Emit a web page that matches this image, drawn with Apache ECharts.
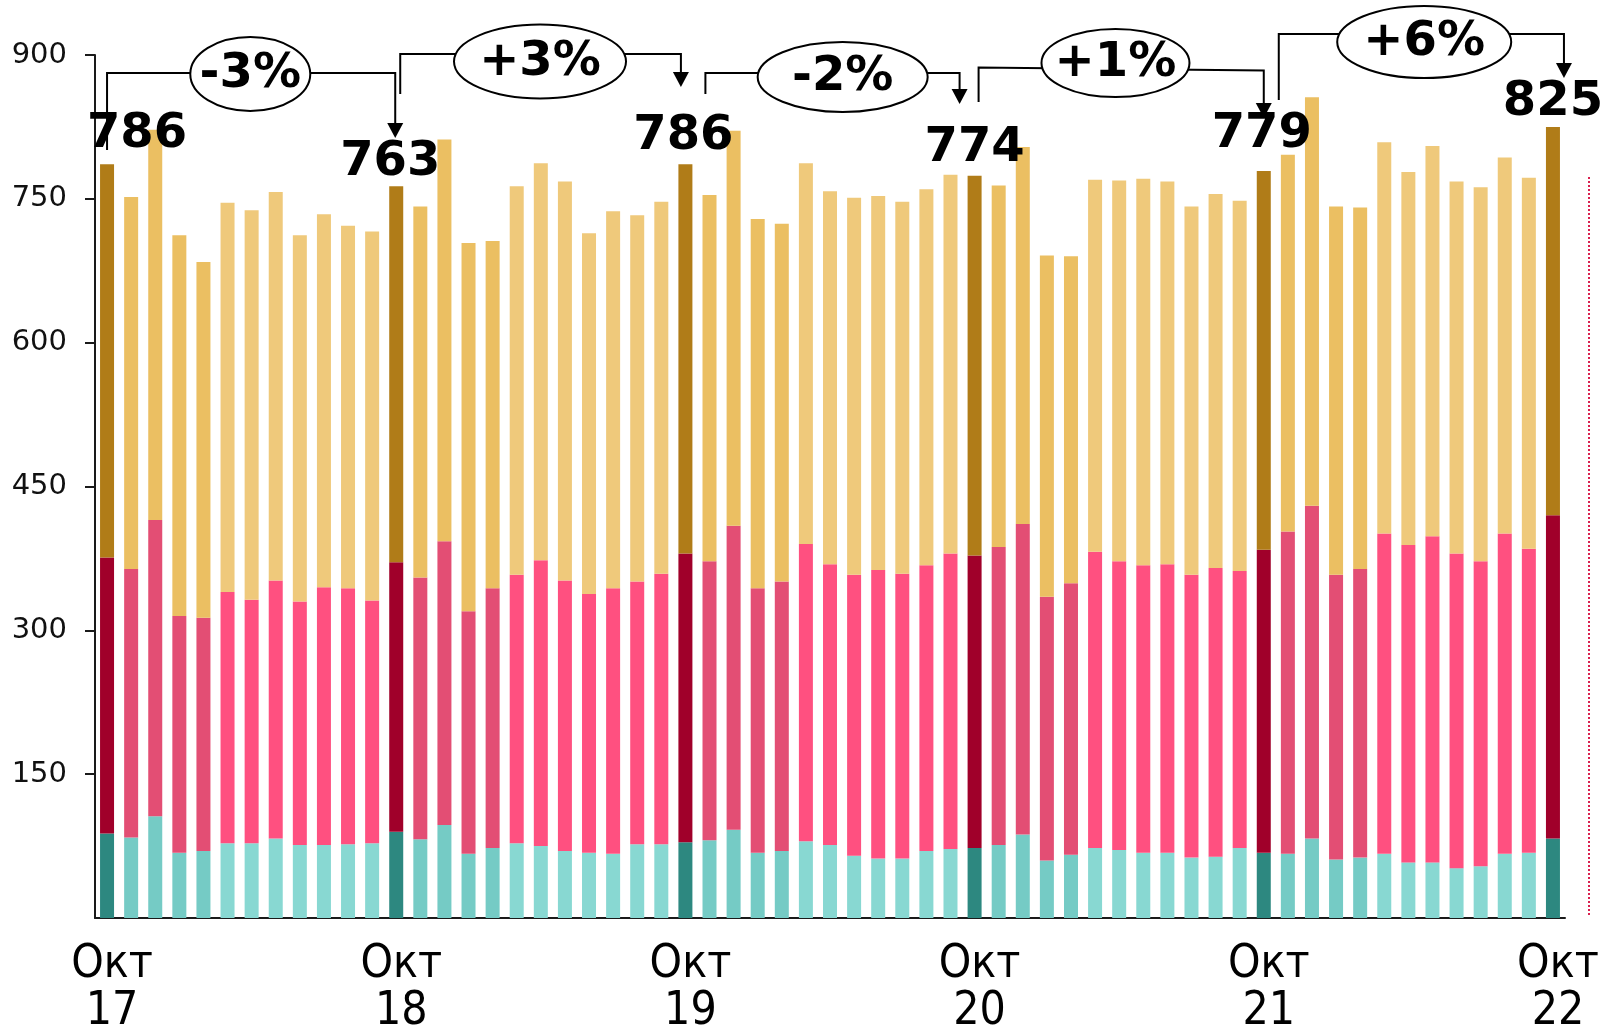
<!DOCTYPE html>
<html>
<head>
<meta charset="utf-8">
<script src="https://cdn.jsdelivr.net/npm/echarts@6/dist/echarts.min.js"></script>
<style>
  html, body { margin: 0; padding: 0; background: #fff; }
  #chart { width: 1606px; height: 1028px; }
</style>
</head>
<body>
<div id="chart"></div>
<script>
// months Oct'17 .. Oct'22
const months = ['Окт', 'Ноя', 'Дек', 'Янв', 'Фев', 'Мар', 'Апр', 'Май', 'Июн', 'Июл', 'Авг', 'Сен']
const firstYear = 17

// bottom segment (teal)
const teal = [88, 84, 106, 68, 70, 78, 78, 83, 76, 76, 77, 78,
  90, 82, 97, 67, 73, 78, 75, 70, 68, 67, 77, 77,
  79, 81, 92, 68, 70, 80, 76, 65, 62, 62, 70, 72,
  73, 76, 87, 60, 66, 73, 71, 68, 68, 63, 64, 73,
  68, 67, 83, 61, 63, 67, 58, 58, 52, 54, 67, 68,
  83]
// middle segment (pink)
const pink = [288, 280, 309, 247, 243, 262, 254, 269, 254, 269, 267, 253,
  281, 273, 296, 253, 271, 280, 298, 282, 270, 277, 274, 282,
  301, 291, 317, 276, 281, 310, 293, 293, 301, 297, 298, 308,
  305, 311, 324, 275, 283, 309, 301, 300, 301, 295, 301, 289,
  316, 336, 347, 297, 301, 334, 331, 340, 328, 318, 334, 317,
  337]
// top segment (orange)
const orange = [410, 388, 407, 397, 371, 406, 406, 405, 382, 389, 378, 385,
  392, 387, 419, 384, 362, 405, 414, 416, 376, 393, 382, 388,
  406, 382, 412, 385, 373, 397, 389, 393, 390, 388, 392, 395,
  396, 377, 393, 356, 341, 388, 397, 403, 399, 384, 390, 386,
  395, 393, 426, 384, 377, 408, 389, 407, 388, 390, 392, 387,
  405]

const yTicks = { min: 0, max: 900, step: 150 }

const categories = teal.map((v, i) => months[i % 12] + '\n' + (firstYear + Math.floor((i + 9) / 12)))
const totals = teal.map((v, i) => v + pink[i] + orange[i])
const octIdx = categories.map((c, i) => i).filter(i => i % 12 === 0)

// year-over-year change between October bars
const changes = octIdx.slice(1).map((e, k) => {
  const s = octIdx[k]
  return [s, e, Math.round((totals[e] - totals[s]) / totals[s] * 100)]
})

// colours: [october, nov-feb, rest]
const palette = {
  teal: ['#2D8880', '#75CBC5', '#88D8D2'],
  pink: ['#A0002A', '#E34E74', '#FF5080'],
  orange: ['#B07C18', '#EBBF62', '#EFC97B']
}
function shade(i) {
  const m = i % 12
  return m === 0 ? 0 : (m <= 4 ? 1 : 2)
}

// label nudges for the october totals
const labelNudge = [[30, -3], [-6, 3], [-2, -1], [0, 0], [-2, -9], [0, 3]]

// bracket layout (pixels)
const bracketLayout = [
  { dxL: 0, dxR: -1, y0: 73, y1: 73, leg: 150, tip: 138, f: 0.497, ey: 74, rx: 60, ry: 37 },
  { dxL: 4, dxR: -4.5, y0: 54, y1: 54, leg: 94, tip: 87, f: 0.498, ey: 61.5, rx: 86, ry: 37 },
  { dxL: 20, dxR: -15, y0: 73, y1: 73, leg: 94, tip: 104, f: 0.54, ey: 77, rx: 85, ry: 35 },
  { dxL: 4, dxR: 0, y0: 67.5, y1: 70.5, leg: 102, tip: 118, f: 0.48, ey: 63, rx: 74, ry: 34 },
  { dxL: 15, dxR: 11, y0: 34, y1: 34, leg: 100, tip: 78, f: 0.51, ey: 42, rx: 87, ry: 36 }
]

const font = 'DejaVu Sans'

function barSeries(name, values, colors, withLabel) {
  return {
    name: name,
    type: 'bar',
    stack: 'total',
    barWidth: 14,
    itemStyle: { color: p => colors[shade(p.dataIndex)] },
    data: values.map((v, i) => {
      if (!withLabel || i % 12 !== 0) return v
      return {
        value: v,
        label: {
          show: true,
          position: 'top',
          distance: 3,
          offset: labelNudge[i / 12],
          formatter: () => String(totals[i]),
          fontFamily: font,
          fontWeight: 'bold',
          fontSize: 48,
          color: '#000'
        }
      }
    })
  }
}

function renderBracket(params, api) {
  const L = bracketLayout[params.dataIndex]
  const x0 = api.coord([api.value(0), 0])[0] + L.dxL
  const x1 = api.coord([api.value(1), 0])[0] + L.dxR
  const ex = x0 + (x1 - x0) * L.f
  const p = api.value(2)
  const line = { stroke: '#000', lineWidth: 2, fill: null }
  return {
    type: 'group',
    children: [
      { type: 'polyline', shape: { points: [[x0, L.leg], [x0, L.y0], [x1, L.y1], [x1, L.tip - 12]] }, style: line },
      { type: 'polygon', shape: { points: [[x1 - 8, L.tip - 15], [x1 + 8, L.tip - 15], [x1, L.tip]] }, style: { fill: '#000' } },
      { type: 'ellipse', shape: { cx: ex, cy: L.ey, rx: L.rx, ry: L.ry }, style: { fill: '#fff', stroke: '#000', lineWidth: 2 } },
      {
        type: 'text', x: ex, y: L.ey + 1,
        style: {
          text: (p > 0 ? '+' : '') + p + '%',
          fill: '#000',
          font: 'bold 48px "' + font + '"',
          align: 'center',
          verticalAlign: 'middle'
        }
      }
    ]
  }
}

const chart = echarts.init(document.getElementById('chart'))
chart.setOption({
  animation: false,
  backgroundColor: '#fff',
  grid: { left: 95, right: 41, top: 55, bottom: 110, containLabel: false, outerBoundsMode: 'none' },
  xAxis: {
    type: 'category',
    data: categories,
    axisLine: { lineStyle: { color: '#1a1a1a', width: 2 } },
    axisTick: { show: false },
    axisLabel: {
      interval: i => i % 12 === 0,
      fontFamily: "'DejaVu Sans Condensed', 'DejaVu Sans'",
      fontSize: 46,
      lineHeight: 47,
      color: '#000',
      margin: 24,
      padding: [0, 0, 0, 10]
    }
  },
  yAxis: {
    type: 'value',
    min: yTicks.min,
    max: yTicks.max,
    interval: yTicks.step,
    splitLine: { show: false },
    axisLine: { show: true, lineStyle: { color: '#1a1a1a', width: 2 } },
    axisTick: { show: true, length: 10, lineStyle: { color: '#1a1a1a', width: 2 } },
    axisLabel: { showMinLabel: false, fontFamily: font, fontSize: 29, color: '#111', margin: 28, padding: [4, 0, 0, 0] }
  },
  series: [
    barSeries('teal', teal, palette.teal, false),
    barSeries('pink', pink, palette.pink, false),
    barSeries('orange', orange, palette.orange, true),
    {
      type: 'custom',
      data: changes,
      renderItem: renderBracket,
      clip: false,
      silent: true,
      z: 5
    }
  ],
  graphic: [
    {
      type: 'line',
      shape: { x1: 1589, y1: 177, x2: 1589, y2: 915 },
      style: { stroke: '#D9204F', lineWidth: 2, lineDash: [2, 2] }
    }
  ]
})
</script>
</body>
</html>
